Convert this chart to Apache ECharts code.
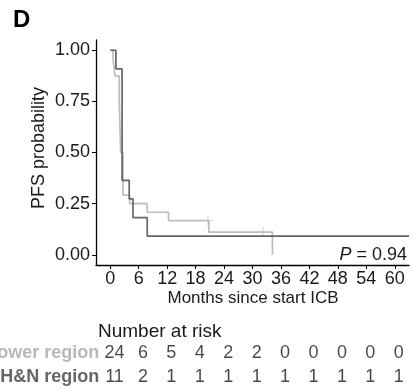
<!DOCTYPE html>
<html><head><meta charset="utf-8">
<script src="https://cdn.jsdelivr.net/npm/echarts@6/dist/echarts.min.js"></script>
<style>html,body{margin:0;padding:0;background:#fff}#c{width:413px;height:392px}</style>
</head><body><div id="c"></div>
<script>
// Kaplan-Meier step points [months, survival]
const lowerKM = [[0,1],[0.6,0.958],[1.0,0.875],[1.9,0.75],[2.2,0.5],[2.7,0.292],[4.1,0.25],[7.8,0.208],[12.3,0.167],[20.8,0.111],[34.2,0]];
const hnKM = [[0,1],[1.2,0.909],[2.5,0.364],[4.0,0.273],[4.8,0.182],[7.8,0.091],[63,0.091]];
const lowerCensor = [[20.6,0.167],[32.2,0.111]];
const xTicks = [0,6,12,18,24,30,36,42,48,54,60];
const yTicks = [0,0.25,0.5,0.75,1];
const riskTimes = [0,6,12,18,24,30,36,42,48,54,60];
const riskLower = [24,6,5,4,2,2,0,0,0,0,0];
const riskHN = [11,2,1,1,1,1,1,1,1,1,1];
const groups = ['H&N region','Lower region'];

const FONT = 'Liberation Sans, Arial, sans-serif';
const DARK = '#666666', LIGHT = '#bdbdbd', TXT = '#1a1a1a';
const chart = echarts.init(document.getElementById('c'));
const riskData = [];
riskTimes.forEach((t,i)=>{ riskData.push([t,'Lower region',riskLower[i]]); riskData.push([t,'H&N region',riskHN[i]]); });

chart.setOption({
  animation:false,
  grid:[{left:96,right:4,top:40,bottom:127,outerBoundsMode:'none',containLabel:false},
        {left:100.3,right:0,top:341,height:48,outerBoundsMode:'none',containLabel:false}],
  xAxis:[{gridIndex:0,type:'value',min:-3,max:63,
    axisLine:{show:true,onZero:false,lineStyle:{color:'#000',width:1.3}},
    axisTick:{show:true,length:4,customValues:xTicks,lineStyle:{color:'#000'}},
    axisLabel:{customValues:xTicks,color:TXT,fontSize:18,fontFamily:FONT,margin:5},
    splitLine:{show:false}},
   {gridIndex:1,type:'value',min:-3,max:63,show:false}],
  yAxis:[{gridIndex:0,type:'value',min:-0.05,max:1.05,
    axisLine:{show:true,onZero:false,lineStyle:{color:'#000',width:1.3}},
    axisTick:{show:true,length:4,customValues:yTicks,lineStyle:{color:'#000'}},
    axisLabel:{customValues:yTicks,color:TXT,fontSize:18,fontFamily:FONT,margin:6,formatter:v=>v.toFixed(2)},
    splitLine:{show:false}},
   {gridIndex:1,type:'category',data:groups,
    axisLine:{show:false},axisTick:{show:false},
    axisLabel:{margin:1,fontSize:18,fontFamily:FONT,fontWeight:'bold',
      formatter:v=> v==='Lower region' ? '{l|'+v+'}' : '{h|'+v+'}',
      rich:{l:{color:'#b8b8b8',fontSize:18,fontWeight:'bold',fontFamily:FONT},h:{color:DARK,fontSize:18,fontWeight:'bold',fontFamily:FONT}}}}],
  series:[
    {type:'line',xAxisIndex:0,yAxisIndex:0,data:lowerKM,step:'end',symbol:'none',lineStyle:{color:LIGHT,width:1.7}},
    {type:'line',xAxisIndex:0,yAxisIndex:0,data:hnKM,step:'end',symbol:'none',lineStyle:{color:DARK,width:1.7}},
    {type:'scatter',xAxisIndex:0,yAxisIndex:0,data:lowerCensor,symbol:'path://M-0.09,-1h0.18v2h-0.18z M-1,-0.09h2v0.18h-2z',symbolSize:10,itemStyle:{color:LIGHT}},
    {type:'scatter',xAxisIndex:1,yAxisIndex:1,data:riskData,symbolSize:0,
      label:{show:true,position:'inside',formatter:p=>String(p.value[2]),color:TXT,fontSize:18,fontFamily:FONT}}
  ],
  graphic:[
    {type:'text',left:13,top:8,style:{text:'D',font:'bold 24px '+FONT,fill:'#000'}},
    {type:'text',x:39,y:148,rotation:Math.PI/2,style:{text:'PFS probability',font:'18px '+FONT,fill:TXT,align:'center',verticalAlign:'middle'}},
    {type:'text',x:253,y:298,style:{text:'Months since start ICB',font:'17px '+FONT,fill:TXT,align:'center',verticalAlign:'middle'}},
    {type:'text',x:98,y:332,style:{text:'Number at risk',font:'19px '+FONT,fill:TXT,align:'left',verticalAlign:'middle'}},
    {type:'text',x:407,y:255,style:{text:'{i|P} = 0.94',align:'right',verticalAlign:'middle',
      rich:{i:{font:'italic 18px '+FONT,fill:TXT}},font:'18px '+FONT,fill:TXT}}
  ]
});
</script></body></html>
